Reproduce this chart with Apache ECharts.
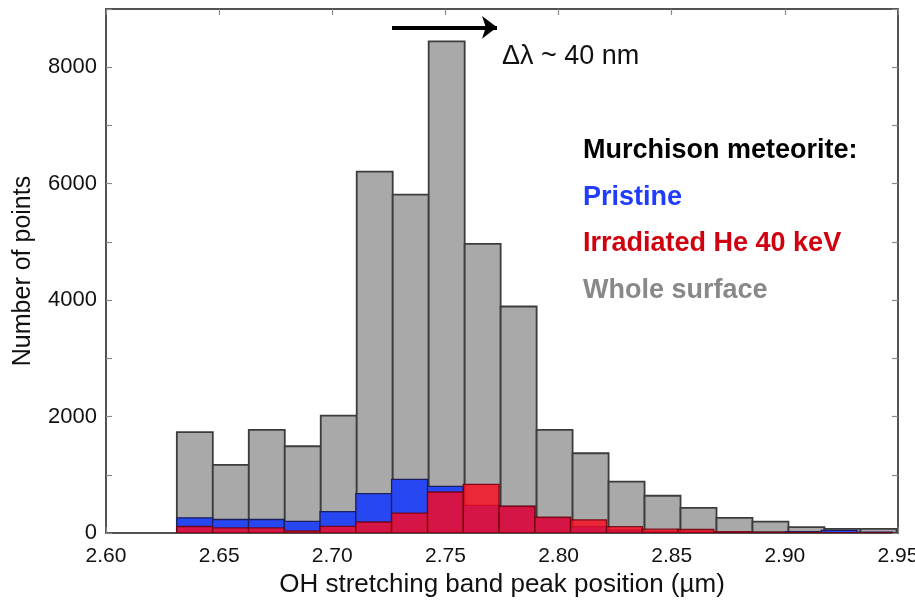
<!DOCTYPE html>
<html>
<head>
<meta charset="utf-8">
<script src="https://cdn.jsdelivr.net/npm/echarts@6/dist/echarts.min.js"></script>
<style>
html,body{margin:0;padding:0;background:#ffffff;}
#chart{width:915px;height:600px;}
</style>
</head>
<body>
<div id="chart"></div>
<script>
// ---- Data ----
// Whole surface histogram: bin edges (µm) and counts
const wholeEdges = [2.6313, 2.6472, 2.6631, 2.6790, 2.6949, 2.7108, 2.7267, 2.7426, 2.7585, 2.7744,
                    2.7903, 2.8062, 2.8221, 2.8380, 2.8539, 2.8698, 2.8857, 2.9016, 2.9175, 2.9334, 2.9493];
const wholeCounts = [1731, 1171, 1772, 1490, 2017, 6207, 5812, 8444, 4965, 3890,
                     1772, 1370, 884, 640, 433, 261, 197, 100, 72, 72];

// Pristine and irradiated histograms: bin edges (µm) and counts
const sampleEdges = [2.6313, 2.6471, 2.6630, 2.6788, 2.6946, 2.7104, 2.7262, 2.7421, 2.7579, 2.7737,
                     2.7895, 2.8053, 2.8212, 2.8370, 2.8528, 2.8686, 2.8844, 2.9003, 2.9161, 2.9319, 2.9477];
const pristineCounts = [261, 232, 232, 200, 367, 676, 922, 802, 476, 455,
                        265, 110, 50, 25, 15, 10, 15, 25, 45, 15];
const irradiatedCounts = [112, 89, 89, 35, 115, 189, 343, 704, 836, 460,
                          271, 227, 108, 65, 60, 25, 15, 10, 8, 5];

// Axis ticks
const xTickValues = [2.60, 2.65, 2.70, 2.75, 2.80, 2.85, 2.90, 2.95];
const yTickLabels = [0, 2000, 4000, 6000, 8000];

// Annotation: Δλ arrow (µm, count)
const shiftArrow = [[2.7264, 8685], [2.7728, 8685]];

const legendTitle = 'Murchison meteorite:';
const seriesNames = ['Pristine', 'Irradiated He 40 keV', 'Whole surface'];

// ---- Build chart ----
function toBins(edges, counts) {
  return counts.map((v, i) => [edges[i], edges[i + 1], v]);
}

function makeRender(style) {
  return function (params, api) {
    const a = api.coord([api.value(0), api.value(2)]);
    const b = api.coord([api.value(1), 0]);
    return {
      type: 'rect',
      shape: { x: a[0], y: a[1], width: b[0] - a[0], height: b[1] - a[1] },
      style: style
    };
  };
}

const chart = echarts.init(document.getElementById('chart'), null, { renderer: 'canvas' });

const FONT = 'Liberation Sans, Arial, sans-serif';
const axisLineStyle = { color: '#1a1a1a', width: 1.5 };
const tickStyle = { color: '#8a8a8a', width: 1.2 };

const option = {
  backgroundColor: '#ffffff',
  animation: false,
  grid: { left: 106, right: 17, top: 9, bottom: 67, containLabel: false, outerBoundsMode: 'none' },
  xAxis: [
    {
      type: 'value', min: 2.60, max: 2.95, interval: 0.05,
      name: 'OH stretching band peak position (µm)',
      nameLocation: 'middle', nameGap: 36,
      nameTextStyle: { fontFamily: FONT, fontSize: 26, color: '#111' },
      axisLine: { show: true, lineStyle: axisLineStyle },
      axisTick: { show: true, inside: true, length: 6, lineStyle: tickStyle },
      axisLabel: {
        fontFamily: FONT, fontSize: 21, color: '#111', margin: 13,
        showMinLabel: true, showMaxLabel: true,
        formatter: v => xTickValues.some(t => Math.abs(t - v) < 1e-6) ? v.toFixed(2) : ''
      },
      splitLine: { show: false }
    },
    {
      type: 'value', position: 'top', min: 2.60, max: 2.95, interval: 0.05,
      axisLine: { show: true, onZero: false, lineStyle: axisLineStyle },
      axisTick: { show: true, inside: true, length: 6, lineStyle: tickStyle },
      axisLabel: { show: false },
      splitLine: { show: false }
    }
  ],
  yAxis: [
    {
      type: 'value', min: 0, max: 9000, interval: 1000,
      name: 'Number of points',
      nameLocation: 'middle', nameGap: 70,
      nameTextStyle: { fontFamily: FONT, fontSize: 25, color: '#111' },
      axisLine: { show: true, lineStyle: axisLineStyle },
      axisTick: { show: true, inside: true, length: 6, lineStyle: tickStyle },
      axisLabel: {
        fontFamily: FONT, fontSize: 22, color: '#111', margin: 9,
        formatter: v => yTickLabels.indexOf(v) >= 0 ? String(v) : ''
      },
      splitLine: { show: false }
    },
    {
      type: 'value', position: 'right', min: 0, max: 9000, interval: 1000,
      axisLine: { show: true, onZero: false, lineStyle: axisLineStyle },
      axisTick: { show: true, inside: true, length: 6, lineStyle: tickStyle },
      axisLabel: { show: false },
      splitLine: { show: false }
    }
  ],
  series: [
    {
      name: seriesNames[2], type: 'custom', xAxisIndex: 0, yAxisIndex: 0,
      clip: true,
      encode: { x: [0, 1], y: 2 },
      data: toBins(wholeEdges, wholeCounts),
      renderItem: makeRender({ fill: '#a9a9a9', stroke: '#3c3c3c', lineWidth: 1.8 }),
      markLine: {
        silent: true, animation: false,
        symbol: ['none', 'arrow'], symbolSize: [17, 15],
        label: { show: false },
        lineStyle: { color: '#000', width: 4, type: 'solid' },
        data: [[{ coord: shiftArrow[0] }, { coord: shiftArrow[1] }]]
      }
    },
    {
      name: seriesNames[0], type: 'custom', xAxisIndex: 0, yAxisIndex: 0,
      clip: true,
      encode: { x: [0, 1], y: 2 },
      data: toBins(sampleEdges, pristineCounts),
      renderItem: makeRender({ fill: '#2747f2', stroke: '#1c1f5c', lineWidth: 1.3 })
    },
    {
      name: seriesNames[1], type: 'custom', xAxisIndex: 0, yAxisIndex: 0,
      clip: true,
      encode: { x: [0, 1], y: 2 },
      data: toBins(sampleEdges, irradiatedCounts),
      renderItem: makeRender({ fill: 'rgba(250,10,30,0.82)', stroke: 'rgba(110,0,10,0.85)', lineWidth: 1.3 })
    }
  ],
  graphic: [
    { type: 'text', left: 502, top: 43, style: { text: 'Δλ ~ 40 nm', font: '27px ' + FONT, fill: '#111' } },
    { type: 'text', left: 583, top: 137, style: { text: legendTitle, font: 'bold 27px ' + FONT, fill: '#000' } },
    { type: 'text', left: 583, top: 184, style: { text: seriesNames[0], font: 'bold 27px ' + FONT, fill: '#1f3cff' } },
    { type: 'text', left: 583, top: 230, style: { text: seriesNames[1], font: 'bold 27px ' + FONT, fill: '#d0000f' } },
    { type: 'text', left: 583, top: 277, style: { text: seriesNames[2], font: 'bold 27px ' + FONT, fill: '#888888' } }
  ]
};

chart.setOption(option);
</script>
</body>
</html>
